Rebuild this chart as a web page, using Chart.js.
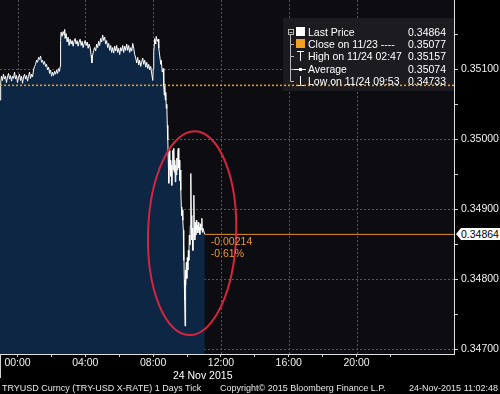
<!DOCTYPE html>
<html><head><meta charset="utf-8">
<script src="https://cdn.jsdelivr.net/npm/chart.js@4.4.0/dist/chart.umd.min.js"></script>
<style>
html,body{margin:0;padding:0;background:#000;width:500px;height:394px;overflow:hidden;font-family:"Liberation Sans",Arial,sans-serif;}
#wrap{position:absolute;left:0;top:0;width:500px;height:394px;}
#c{position:absolute;left:0;top:0;width:500px;height:394px;}
.t{position:absolute;color:#fff;font-size:10.5px;line-height:12px;white-space:nowrap;}
.f{position:absolute;color:#e6e6e6;font-size:9px;line-height:12px;white-space:nowrap;top:382px;}
#tag{position:absolute;left:456px;width:44px;height:12px;background:#fff;color:#000;font-size:10.5px;line-height:12px;padding-left:5px;box-sizing:border-box;clip-path:polygon(5px 0,100% 0,100% 100%,5px 100%,0 50%);}
.chg{position:absolute;color:#e8992b;font-size:10.5px;line-height:12px;white-space:nowrap;}
#sep{position:absolute;left:0;top:354px;width:1px;height:24px;background:#d0d0d0;}
</style></head><body>
<div id="wrap"><canvas id="c" width="500" height="394"></canvas></div>
<div id="sep"></div>
<div id="overlay"></div>
<script>
// ---- data: TRYUSD tick prices, time in minutes after 00:00 on 24 Nov 2015 ----
const times = [-62.1,-59.6,-56.7,-53.2,-49.7,-46.1,-42.6,-39.0,-35.5,-31.9,-28.4,-24.8,-21.3,-17.7,-14.2,-10.6,-7.1,-3.6,0.0,3.5,7.1,10.6,14.2,17.7,21.3,24.8,28.4,31.9,35.5,39.0,42.6,46.1,49.6,53.2,
56.7,60.3,63.8,67.4,70.9,74.5,78.0,81.6,85.1,88.7,92.2,95.7,99.3,102.8,106.4,109.9,113.5,117.0,120.6,124.1,127.7,131.2,134.8,138.3,141.8,145.4,148.9,150.7,
152.5,154.2,157.8,161.3,164.9,167.0,168.4,172.0,175.5,179.1,182.6,186.2,189.7,193.2,196.8,200.3,203.9,207.4,211.0,214.5,218.1,221.6,225.2,228.7,232.2,235.8,239.3,242.9,246.4,250.0,253.5,257.1,
260.6,263.1,265.9,269.5,273.0,276.6,280.1,283.7,287.2,290.8,294.3,297.9,301.4,305.0,308.5,312.0,315.6,319.1,322.7,326.2,329.8,333.3,336.9,340.4,343.9,347.5,351.0,354.6,358.1,361.7,365.2,368.8,372.3,375.9,379.4,382.9,386.5,390.0,393.6,397.1,400.7,404.2,407.8,411.3,414.9,
418.4,421.9,425.5,429.1,432.6,436.2,439.7,443.3,446.8,450.3,453.9,457.4,461.0,464.5,468.1,471.6,475.2,478.7,480.5,482.2,485.8,489.3,491.1,494.7,498.2,500.0,503.5,507.1,508.8,512.4,515.9,517.7,
519.5,521.3,523.0,524.8,526.6,528.4,530.1,531.9,533.7,535.5,537.2,539.0,540.8,542.5,544.3,546.1,547.9,549.6,551.4,553.2,554.9,556.7,558.5,560.3,562.0,563.8,565.6,567.4,569.1,570.9,572.7,574.4,576.2,578.0,579.8,581.5,583.3,585.1,
586.9,587.9,589.0,590.4,591.5,593.0,594.0,595.0,596.1,597.5,599.3,601.0,602.8,604.6,606.4,608.1,609.9,611.7,613.4,615.2,617.0,618.8,620.5,622.3,624.1,625.8,627.6,629.4,631.2,632.9,634.7,636.5,638.3,640.0,641.8,643.6,645.4,647.1,648.9,650.7,652.5,654.2,656.0,662.8];
const prices = [0.35056,0.35081,0.35090,0.35084,0.35093,0.35086,0.35090,0.35081,0.35089,0.35094,0.35086,0.35091,0.35083,0.35090,0.35087,0.35096,0.35086,0.35091,0.35081,0.35089,0.35093,0.35084,0.35090,0.35080,0.35089,0.35093,0.35086,0.35091,0.35083,0.35090,0.35096,0.35087,0.35093,0.35089,
0.35099,0.35104,0.35107,0.35113,0.35110,0.35117,0.35114,0.35119,0.35110,0.35113,0.35107,0.35111,0.35104,0.35107,0.35099,0.35103,0.35094,0.35099,0.35090,0.35096,0.35091,0.35097,0.35093,0.35099,0.35094,0.35101,0.35097,0.35104,
0.35141,0.35153,0.35147,0.35154,0.35149,0.35157,0.35144,0.35151,0.35139,0.35146,0.35134,0.35143,0.35136,0.35141,0.35133,0.35140,0.35144,0.35136,0.35141,0.35133,0.35139,0.35143,0.35134,0.35140,0.35131,0.35137,0.35141,0.35134,0.35139,0.35130,0.35136,0.35131,
0.35120,0.35109,0.35120,0.35127,0.35131,0.35126,0.35136,0.35131,0.35140,0.35134,0.35144,0.35139,0.35149,0.35141,0.35146,0.35136,0.35141,0.35131,0.35137,0.35127,0.35134,0.35124,0.35131,0.35123,0.35133,0.35126,0.35134,0.35124,0.35130,0.35121,0.35131,0.35126,0.35134,0.35124,0.35133,0.35127,0.35136,0.35127,0.35134,0.35124,0.35131,0.35126,0.35137,0.35130,0.35121,
0.35116,0.35109,0.35117,0.35106,0.35113,0.35104,0.35111,0.35116,0.35107,0.35113,0.35103,0.35110,0.35101,0.35107,0.35099,0.35104,0.35093,0.35084,0.35101,0.35124,0.35144,0.35136,0.35147,0.35140,0.35143,0.35130,0.35119,0.35107,0.35113,0.35096,0.35101,0.35076,
0.35063,0.35079,0.35056,0.35067,0.35044,0.35050,0.35020,0.34999,0.34970,0.34937,0.34984,0.34956,0.34970,0.34947,0.34963,0.34934,0.34967,0.34984,0.34956,0.34987,0.34953,0.34970,0.34939,0.34963,0.34949,0.34973,0.34956,0.34981,0.34987,0.34959,0.34970,0.34941,0.34956,0.34927,0.34903,0.34891,0.34899,0.34884,
0.34870,0.34827,0.34849,0.34799,0.34770,0.34733,0.34784,0.34813,0.34791,0.34824,0.34801,0.34831,0.34813,0.34841,0.34827,0.34863,0.34849,0.34877,0.34951,0.34891,0.34856,0.34873,0.34841,0.34863,0.34920,0.34877,0.34856,0.34881,0.34863,0.34884,0.34870,0.34877,0.34866,0.34881,0.34870,0.34874,0.34864,0.34879,0.34870,0.34876,0.34887,0.34867,0.34873,0.34864];

const closePrice = 0.35077;
const lastPrice = 0.34864;
const changeTexts = ['-0.00214', '-0.61%'];

const xTickMinutes = [0,120,240,360,480,600,720,840,960,1080,1200,1320];
const xTickLabels = ['00:00','','04:00','','08:00','','12:00','','16:00','','20:00',''];
const yTickValues = [0.3470,0.3475,0.3480,0.3485,0.3490,0.3495,0.3500,0.3505,0.3510,0.3515];
const yTickLabels = ['0.34700','','0.34800','','0.34900','','0.35000','','0.35100',''];

const legendNames = ['Last Price','Close on 11/23 ----','High on 11/24 02:47','Average','Low on 11/24 09:53'];
const legendValues = ['0.34864','0.35077','0.35157','0.35074','0.34733'];

// red circled annotation, in data units (minutes, price)
const ringCenter = {t: 618, p: 0.348657};
const ringRadius = {t: 156, p: 0.001457};

const xMin = -62, xMax = 1545;
const yMin = 0.34693, yMax = 0.35199;

const FONT = 'Liberation Sans';
Chart.defaults.font.family = FONT;
Chart.defaults.font.size = 10.5;

const ORANGE = '#f2a024';
const gridCol = '#56565e';

const decor = {
  id: 'decor',
  beforeDraw(chart) {
    const {ctx, chartArea: a} = chart;
    ctx.save();
    ctx.fillStyle = '#000';
    ctx.fillRect(0, 0, chart.width, chart.height);
    ctx.fillStyle = '#0c0c11';
    ctx.fillRect(a.left, a.top, a.right - a.left, a.bottom - a.top);
    ctx.restore();
  },
  beforeDatasetsDraw(chart) {
    const {ctx, chartArea: a, scales: {x, y}} = chart;
    ctx.save();
    // dotted grid lines at the labelled ticks
    ctx.strokeStyle = gridCol;
    ctx.lineWidth = 1;
    ctx.setLineDash([2, 2]);
    ctx.beginPath();
    xTickMinutes.forEach((v, i) => {
      if (!xTickLabels[i]) return;
      const px = Math.round(x.getPixelForValue(v)) + 0.5;
      ctx.moveTo(px, a.top); ctx.lineTo(px, a.bottom);
    });
    yTickValues.forEach((v, i) => {
      if (!yTickLabels[i]) return;
      const py = Math.round(y.getPixelForValue(v)) + 0.5;
      ctx.moveTo(a.left, py); ctx.lineTo(a.right, py);
    });
    ctx.stroke();
    ctx.setLineDash([]);
    // legend panel
    ctx.fillStyle = '#1b1b20';
    ctx.fillRect(283, 18, 171, 73);
    ctx.strokeStyle = '#b8b8b8';
    ctx.beginPath();
    ctx.moveTo(290.5, 35); ctx.lineTo(290.5, 81.5);
    [44, 56, 69, 81].forEach(yy => { ctx.moveTo(290.5, yy + 0.5); ctx.lineTo(294, yy + 0.5); });
    ctx.stroke();
    ctx.strokeRect(288.5, 29.5, 5, 5);
    ctx.beginPath(); ctx.moveTo(289.5, 32.5); ctx.lineTo(292.5, 32.5); ctx.stroke();
    ctx.fillStyle = '#fff'; ctx.fillRect(296, 27, 9, 9);
    ctx.fillStyle = ORANGE; ctx.fillRect(296, 39, 9, 9);
    ctx.strokeStyle = '#fff';
    ctx.beginPath();
    ctx.moveTo(297, 51.5); ctx.lineTo(304, 51.5);
    ctx.moveTo(300.5, 51.5); ctx.lineTo(300.5, 61);
    ctx.moveTo(294, 69.5); ctx.lineTo(306, 69.5);
    ctx.moveTo(300.5, 76); ctx.lineTo(300.5, 85.5);
    ctx.moveTo(297, 85.5); ctx.lineTo(304, 85.5);
    ctx.stroke();
    ctx.fillStyle = '#fff'; ctx.fillRect(299, 68, 3, 3);
    ctx.restore();
  },
  afterDatasetsDraw(chart) {
    const {ctx, scales: {x, y}} = chart;
    const cx = x.getPixelForValue(ringCenter.t);
    const cy = y.getPixelForValue(ringCenter.p);
    const rx = x.getPixelForValue(ringCenter.t + ringRadius.t) - cx;
    const ry = cy - y.getPixelForValue(ringCenter.p + ringRadius.p);
    ctx.save();
    ctx.strokeStyle = '#d8243e';
    ctx.lineWidth = 2;
    ctx.beginPath();
    ctx.ellipse(cx, cy, rx, ry, 0.03, 0, Math.PI * 2);
    ctx.stroke();
    ctx.restore();
  }
};

const chart = new Chart(document.getElementById('c'), {
  type: 'line',
  data: {
    datasets: [
      {
        data: [{x: xMin, y: closePrice}, {x: xMax, y: closePrice}],
        borderColor: ORANGE, borderWidth: 1.5, borderDash: [2, 2],
        pointRadius: 0, fill: false
      },
      {
        data: [{x: times[times.length - 1], y: lastPrice}, {x: xMax, y: lastPrice}],
        borderColor: '#e8902a', borderWidth: 1,
        pointRadius: 0, fill: false
      },
      {
        data: times.map((t, i) => ({x: t, y: prices[i]})),
        borderColor: '#ffffff', borderWidth: 1,
        backgroundColor: '#0c2644',
        fill: 'start', pointRadius: 0, tension: 0
      }
    ]
  },
  options: {
    responsive: false, animation: false, maintainAspectRatio: false,
    layout: {padding: 0, autoPadding: false},
    plugins: {legend: {display: false}, tooltip: {enabled: false}},
    scales: {
      x: {
        type: 'linear', position: 'bottom', min: xMin, max: xMax,
        afterBuildTicks: s => { s.ticks = xTickMinutes.map(v => ({value: v})); },
        afterFit: s => { s.height = 40; s.paddingLeft = 0; s.paddingRight = 0; },
        ticks: {
          color: '#f0f0f0', padding: 0, maxRotation: 0, autoSkip: false,
          font: {family: FONT, size: 10.5},
          callback: (v, i) => xTickLabels[i]
        },
        grid: {drawOnChartArea: false, color: '#cfcfcf', tickColor: '#cfcfcf', tickLength: 3, lineWidth: 1},
        border: {display: true, color: '#e0e0e0', width: 1}
      },
      y: {
        type: 'linear', position: 'right', min: yMin, max: yMax,
        afterBuildTicks: s => { s.ticks = yTickValues.map(v => ({value: v})); },
        afterFit: s => { s.width = 46; s.paddingTop = 0; s.paddingBottom = 0; },
        ticks: {
          color: '#f0f0f0', padding: 3, autoSkip: false,
          font: {family: FONT, size: 10.5},
          callback: (v, i) => yTickLabels[i]
        },
        grid: {drawOnChartArea: false, color: '#cfcfcf', tickColor: '#cfcfcf', tickLength: 4, lineWidth: 1},
        border: {display: true, color: '#e0e0e0', width: 1}
      }
    }
  },
  plugins: [decor]
});

// ---- text overlays ----
const ov = document.getElementById('overlay');
function addDiv(cls, text, style) {
  const d = document.createElement('div');
  d.className = cls; d.textContent = text;
  Object.assign(d.style, style);
  ov.appendChild(d);
  return d;
}
const rowY = [32, 44, 56, 69, 81];
legendNames.forEach((n, i) => {
  addDiv('t', n, {left: '308px', top: (rowY[i] - 6) + 'px'});
  addDiv('t', legendValues[i], {right: '54px', top: (rowY[i] - 6) + 'px'});
});

const xs = chart.scales.x, ys = chart.scales.y;
const lastY = ys.getPixelForValue(lastPrice);
const lastX = xs.getPixelForValue(times[times.length - 1]);
const tag = document.createElement('div');
tag.id = 'tag'; tag.textContent = lastPrice.toFixed(5);
tag.style.top = (Math.round(lastY) - 6) + 'px';
ov.appendChild(tag);
addDiv('chg', changeTexts[0], {left: (lastX + 6) + 'px', top: (lastY + 1) + 'px'});
addDiv('chg', changeTexts[1], {left: (lastX + 6) + 'px', top: (lastY + 13) + 'px'});

addDiv('t', '24 Nov 2015', {left: (xs.getPixelForValue(720) - 48) + 'px', top: '369px'});
addDiv('f', 'TRYUSD Curncy (TRY-USD X-RATE) 1 Days  Tick', {left: '2px'});
addDiv('f', 'Copyright\u00a9 2015 Bloomberg Finance L.P.', {left: '220px'});
addDiv('f', '24-Nov-2015 11:02:48', {right: '2px'});
</script>
</body></html>
